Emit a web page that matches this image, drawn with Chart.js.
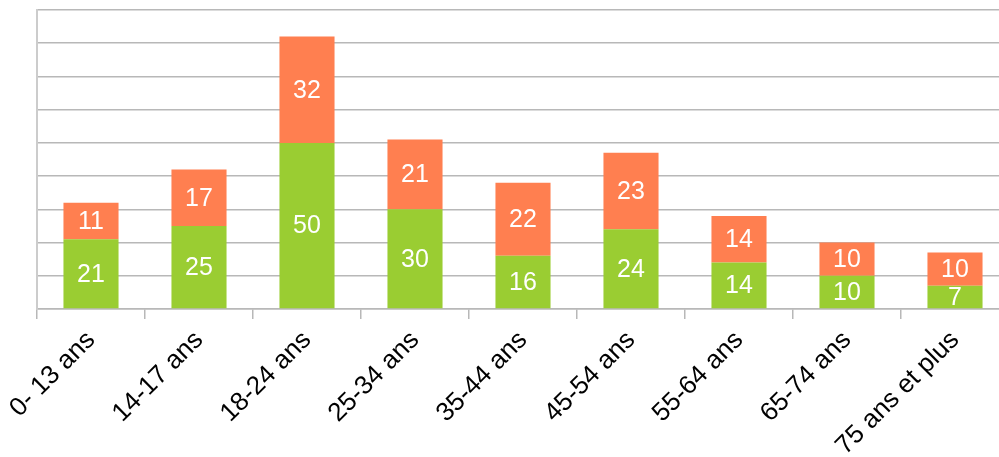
<!DOCTYPE html>
<html>
<head>
<meta charset="utf-8">
<script src="https://cdn.jsdelivr.net/npm/chart.js@4/dist/chart.umd.min.js"></script>
<style>
  html, body { margin: 0; padding: 0; background: #fff; overflow: hidden; }
  #wrap { width: 1010px; height: 457px; }
</style>
</head>
<body>
<div id="wrap"><canvas id="chart"></canvas></div>
<script>
// tranches d'age
const categories = ['0- 13 ans', '14-17 ans', '18-24 ans', '25-34 ans', '35-44 ans',
                    '45-54 ans', '55-64 ans', '65-74 ans', '75 ans et plus'];
const serieBas  = [21, 25, 50, 30, 16, 24, 14, 10, 7];
const serieHaut = [11, 17, 32, 21, 22, 23, 14, 10, 10];

const GRID = '#b8b8b8';

// etiquettes blanches au centre des barres
const valueLabels = {
    id: 'valueLabels',
    afterDatasetsDraw(chart) {
        const ctx = chart.ctx;
        ctx.save();
        ctx.fillStyle = '#ffffff';
        ctx.font = '25px "Liberation Sans", Arial, sans-serif';
        ctx.textAlign = 'center';
        ctx.textBaseline = 'middle';
        chart.data.datasets.forEach((ds, i) => {
            chart.getDatasetMeta(i).data.forEach((bar, j) => {
                const p = bar.getProps(['x', 'y', 'base'], true);
                ctx.fillText(ds.data[j], p.x, (p.y + p.base) / 2 + 1);
            });
        });
        ctx.restore();
    }
};

new Chart(document.getElementById('chart'), {
    type: 'bar',
    data: {
        labels: categories,
        datasets: [
            { data: serieBas,  backgroundColor: '#9acd32', barPercentage: 0.51, categoryPercentage: 1 },
            { data: serieHaut, backgroundColor: '#ff7f50', barPercentage: 0.51, categoryPercentage: 1 }
        ]
    },
    options: {
        animation: false,
        responsive: true,
        maintainAspectRatio: false,
        layout: { padding: { left: 37, top: 10, right: 1, bottom: 0 } },
        plugins: {
            legend: { display: false },
            tooltip: { enabled: false }
        },
        scales: {
            x: {
                stacked: true,
                offset: true,
                afterFit: (axis) => { axis.height = 148; },
                grid: {
                    offset: true,
                    drawOnChartArea: false,
                    color: GRID,
                    tickLength: 10,
                    lineWidth: 1.5
                },
                border: { color: GRID, width: 1.5 },
                ticks: {
                    color: '#000',
                    maxRotation: 45,
                    minRotation: 45,
                    padding: 6,
                    font: { family: '"Liberation Sans", Arial, sans-serif', size: 26 }
                }
            },
            y: {
                stacked: true,
                min: 0,
                max: 90,
                afterFit: (axis) => { axis.width = 0; },
                ticks: { display: false, stepSize: 10 },
                grid: { color: GRID, lineWidth: 1.5, drawTicks: false },
                border: { color: '#cccccc', width: 2 }
            }
        }
    },
    plugins: [valueLabels]
});
</script>
</body>
</html>
